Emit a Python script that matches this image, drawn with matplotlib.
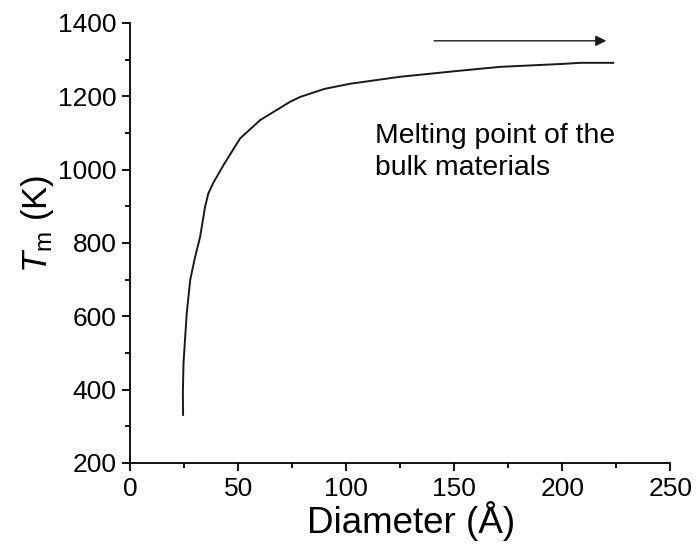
import matplotlib as mpl
import matplotlib.pyplot as plt
from matplotlib.ticker import MultipleLocator

# curve
diameter = [24.5, 24.4, 24.7, 26.2, 27.8, 30.0, 32.4, 34.7, 36.2, 38.6, 43.5, 50.9,
            60.2, 74.1, 78.7, 90.0, 101.9, 125.0, 150.0, 171.3, 200.0, 208.3, 223.6]
t_melt = [331, 391, 473, 609, 699, 760, 817, 899, 935, 965, 1015, 1085,
          1135, 1185, 1198, 1220, 1234, 1253, 1268, 1280, 1288, 1291, 1291]

arrow_x = [140.7, 220.4]
arrow_y = 1351
note_lines = ["Melting point of the", "bulk materials"]
note_x = 113.4
note_y = [1073, 985]

mpl.rcParams['font.family'] = ['Liberation Sans', 'DejaVu Sans']
mpl.rcParams['mathtext.fontset'] = 'custom'
mpl.rcParams['mathtext.rm'] = 'Liberation Sans'
mpl.rcParams['mathtext.it'] = 'Liberation Sans:italic'

fig = plt.figure(figsize=(6.96, 5.44), dpi=100)
ax = fig.add_axes([0.187, 0.149, 0.776, 0.809])

ax.plot(diameter, t_melt, color='#1a1a1a', lw=1.4)
ax.annotate("", xy=(arrow_x[1], arrow_y), xytext=(arrow_x[0], arrow_y),
            arrowprops=dict(arrowstyle='-|>', color='#1a1a1a', lw=1.0,
                            mutation_scale=16, shrinkA=0, shrinkB=0))
for line, y in zip(note_lines, note_y):
    ax.text(note_x, y, line, fontsize=20.4, va='baseline', ha='left')

ax.set_xlim(0, 250)
ax.set_ylim(200, 1400)
ax.xaxis.set_major_locator(MultipleLocator(50))
ax.xaxis.set_minor_locator(MultipleLocator(25))
ax.yaxis.set_major_locator(MultipleLocator(200))
ax.yaxis.set_minor_locator(MultipleLocator(100))

for s in ['top', 'right']:
    ax.spines[s].set_visible(False)
for s in ['left', 'bottom']:
    ax.spines[s].set_linewidth(1.3)

ax.tick_params(which='major', direction='out', length=6, width=1.3,
               labelsize=19, pad=4)
ax.tick_params(which='minor', direction='out', length=3.5, width=1.3)

ax.set_xlabel("Diameter (Å)", fontsize=26.5, labelpad=0)
ax.xaxis.label.set_x(0.52)
ax.set_ylabel(r"$T_\mathrm{m}$ (K)", fontsize=25, labelpad=1)
ax.yaxis.label.set_y(0.543)

plt.savefig("out.png", dpi=100)
